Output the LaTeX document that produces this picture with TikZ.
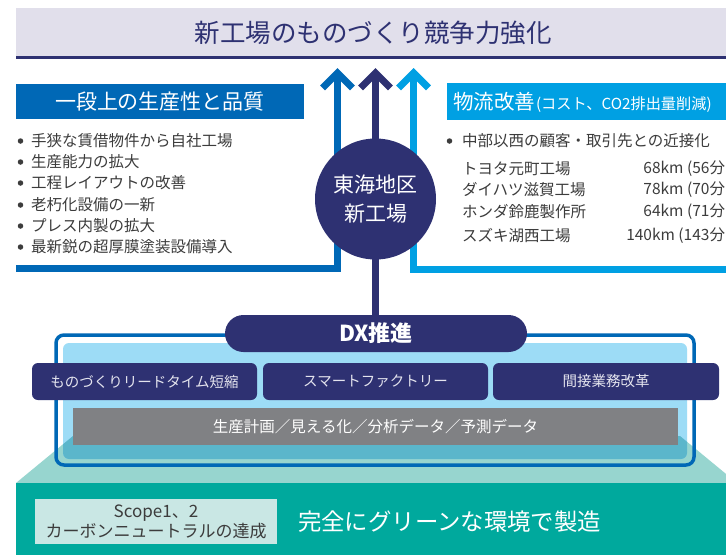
\documentclass[tikz,border=0pt]{standalone}
\usepackage{fontspec}
\setmainfont{Noto Sans CJK JP}
\usetikzlibrary{arrows.meta}
\definecolor{navy}{HTML}{2E3172}
\definecolor{blueA}{HTML}{0068B6}
\definecolor{cyanA}{HTML}{00A0E3}
\definecolor{band}{HTML}{E1DFEB}
\definecolor{lblue}{HTML}{9DDCF6}
\definecolor{grayA}{HTML}{808184}
\definecolor{tealL}{HTML}{97D5CF}
\definecolor{tealA}{HTML}{00A99D}
\definecolor{tealB}{HTML}{5BB6CB}
\definecolor{scopec}{HTML}{C9E7E4}
\definecolor{darkt}{HTML}{3C3C3C}
\definecolor{boxt}{HTML}{E4E4EE}
\tikzset{
  every node/.style={inner sep=0pt, outer sep=0pt},
  upar/.style={line width=7pt, -{Straight Barb[length=15pt,width=30pt]}},
  item/.style={anchor=west, text=darkt, font=\fontsize{15.5}{18}\selectfont},
  dot/.style={circle, fill=darkt, minimum size=5.5pt},
  dxbox/.style={fill=navy, rounded corners=6pt, minimum width=225pt, minimum height=37pt, text=boxt, font=\fontsize{14.5}{17}\selectfont},
}
\begin{document}
\begin{tikzpicture}[x=1pt,y=-1pt]
\clip (0,0) rectangle (726,555);
\fill[white] (0,0) rectangle (726,555);

% title band
\fill[band] (16,8) rectangle (726,57);
\draw[navy, line width=2.5pt] (16,57.5) -- (726,57.5);
\node[text=navy, font=\fontsize{25.5}{30}\selectfont] (title) at (373,33) {新工場のものづくり競争力強化};

% left header and list
\node[fill=blueA, text=white, minimum width=288pt, minimum height=35pt, font=\fontsize{21}{25}\selectfont] (lhead) at (160,101.5) {一段上の生産性と品質};
\foreach \i/\y/\t in {1/141/手狭な賃借物件から自社工場, 2/162/生産能力の拡大, 3/183/工程レイアウトの改善, 4/205/老朽化設備の一新, 5/226/プレス内製の拡大, 6/247/最新鋭の超厚膜塗装設備導入}{
  \node[dot] (ld\i) at (20.5,\y) {};
  \node[item] (li\i) at (31,\y) {\t};
}

% right header and list
\node[fill=cyanA, minimum width=290pt, minimum height=37pt, anchor=west] (rhead) at (447,101.5) {};
\node[anchor=base west, text=white] (rheadt) at (453,109) {{\fontsize{20.5}{24}\selectfont 物流改善}\hspace{1pt}{\fontsize{15.2}{18}\selectfont (コスト、CO2排出量削減)}};
\node[dot] (rd1) at (449.5,141) {};
\node[item] (ri1) at (462,141) {中部以西の顧客・取引先との近接化};
\foreach \i/\y/\n/\d in {1/169/トヨタ元町工場/68km (56分, 2/190/ダイハツ滋賀工場/78km (70分, 3/212/ホンダ鈴鹿製作所/64km (71分, 4/236/スズキ湖西工場/140km (143分}{
  \node[item] (rn\i) at (462,\y) {\n};
  \node[item, anchor=east] (rk\i) at (725,\y) {\d};
}

% arrows
\coordinate (lb) at (16,268);
\coordinate (lc) at (337.5,268);
\coordinate (lt) at (337.5,68);
\coordinate (mt) at (375.5,68);
\coordinate (rb) at (730,269);
\coordinate (rc) at (413.5,269);
\coordinate (rt) at (413.5,68);
\draw[upar, blueA] (lb) -- (lc) -- (lt);
\draw[upar, cyanA] (rb) -- (rc) -- (rt);

% DX base
\fill[tealL] (73,436) -- (680,436) -- (737,483) -- (16,483) -- cycle;
\fill[tealA] (16,483) rectangle (726,555);
\draw[blueA, line width=3.5pt, rounded corners=8pt] (56,335) rectangle (694,465);
\fill[lblue, rounded corners=6pt] (63,343) rectangle (687,459);
\begin{scope}
  \clip[rounded corners=6pt] (63,343) rectangle (687,459);
  \fill[tealB] (73,436) -- (680,436) -- (737,483) -- (16,483) -- cycle;
\end{scope}
\node[fill=grayA, text=white, minimum width=605pt, minimum height=37pt, font=\fontsize{15.5}{18}\selectfont] (data) at (375.5,426.5) {生産計画／見える化／分析データ／予測データ};
\node[dxbox] (b1) at (144.5,381.5) {ものづくりリードタイム短縮};
\node[dxbox] (b2) at (375.5,381.5) {スマートファクトリー};
\node[dxbox, minimum width=226pt] (b3) at (606,381.5) {間接業務改革};

% DX pill and central arrow
\node[fill=navy, rounded corners=18.5pt, minimum width=302pt, minimum height=37pt, text=white, font=\bfseries\fontsize{22}{26}\selectfont] (dx) at (376,333.5) {DX推進};
\draw[upar, navy] (dx.north -| mt) -- (mt);
\node[circle, fill=navy, minimum size=121pt, text=white, align=center, font=\fontsize{21}{29}\selectfont] (hub) at (375.5,199) {東海地区\\新工場};

% bottom
\node[fill=scopec, minimum width=242pt, minimum height=45pt, align=center, text=darkt, font=\fontsize{17}{20}\selectfont] (scope) at (156,521.5) {Scope1、2\\カーボンニュートラルの達成};
\node[anchor=west, text=white, font=\fontsize{23.4}{28}\selectfont] (green) at (298,522) {完全にグリーンな環境で製造};
\end{tikzpicture}
\end{document}
